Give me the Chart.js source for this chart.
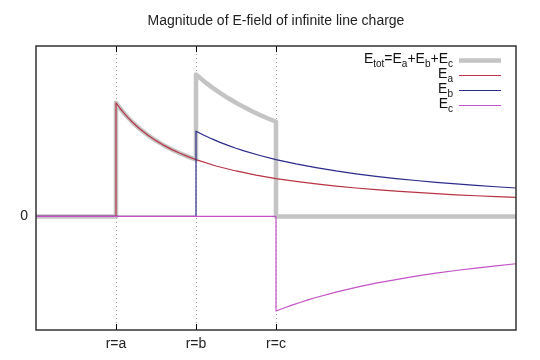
<!DOCTYPE html>
<html>
<head>
<meta charset="utf-8">
<script src="https://cdn.jsdelivr.net/npm/chart.js@4"></script>
<style>
  html, body { margin: 0; padding: 0; background: #fff; }
  #wrap { width: 540px; height: 360px; }
</style>
</head>
<body>
<div id="wrap"><canvas id="myChart" width="540" height="360"></canvas></div>
<script>
// tick positions and labels
const xTicks = [1, 2, 3];
const xTickLabels = ['r=a', 'r=b', 'r=c'];
const yTicks = [0];
const yTickLabels = ['0'];

// series (r, E)
const rTot = [0, 1, 1, 1.05, 1.1, 1.15, 1.2, 1.25, 1.3, 1.4, 1.5, 1.6, 1.7, 1.8, 1.9, 2,
              2, 2.1, 2.2, 2.3, 2.4, 2.5, 2.6, 2.7, 2.8, 2.9, 3, 3, 6];
const eTot = [0, 0, 1.000, 0.952, 0.909, 0.870, 0.833, 0.800, 0.769, 0.714, 0.667, 0.625, 0.588, 0.556, 0.526, 0.500,
              1.250, 1.190, 1.136, 1.087, 1.042, 1.000, 0.962, 0.926, 0.893, 0.862, 0.833, 0, 0];

const rA = [0, 1, 1, 1.05, 1.1, 1.15, 1.2, 1.25, 1.3, 1.4, 1.5, 1.6, 1.7, 1.8, 1.9, 2,
            2.25, 2.5, 2.75, 3, 3.25, 3.5, 3.75, 4, 4.25, 4.5, 4.75, 5, 5.25, 5.5, 5.75, 6];
const eA = [0, 0, 1.000, 0.952, 0.909, 0.870, 0.833, 0.800, 0.769, 0.714, 0.667, 0.625, 0.588, 0.556, 0.526, 0.500,
            0.444, 0.400, 0.364, 0.333, 0.308, 0.286, 0.267, 0.250, 0.235, 0.222, 0.211, 0.200, 0.190, 0.182, 0.174, 0.167];

const rB = [0, 2, 2, 2.1, 2.2, 2.3, 2.4, 2.5, 2.6, 2.8, 3, 3.25, 3.5, 3.75, 4, 4.25, 4.5, 4.75, 5, 5.25, 5.5, 5.75, 6];
const eB = [0, 0, 0.750, 0.714, 0.682, 0.652, 0.625, 0.600, 0.577, 0.536, 0.500, 0.462, 0.429, 0.400, 0.375, 0.353,
            0.333, 0.316, 0.300, 0.286, 0.273, 0.261, 0.250];

const rC = [0, 3, 3, 3.1, 3.2, 3.3, 3.4, 3.5, 3.75, 4, 4.25, 4.5, 4.75, 5, 5.25, 5.5, 5.75, 6];
const eC = [0, 0, -0.833, -0.806, -0.781, -0.758, -0.735, -0.714, -0.667, -0.625, -0.588, -0.556, -0.526, -0.500,
            -0.476, -0.455, -0.435, -0.417];

const FONT = '"Liberation Sans", Arial, sans-serif';

function toPoints(xs, ys) {
  return xs.map((x, i) => ({ x: x, y: ys[i] }));
}

// split 'E_{a}' style labels into normal / subscript pieces
function splitLabel(label) {
  const parts = [];
  const re = /_\{([^}]*)\}/g;
  let last = 0, m;
  while ((m = re.exec(label)) !== null) {
    if (m.index > last) parts.push({ text: label.slice(last, m.index), sub: false });
    parts.push({ text: m[1], sub: true });
    last = re.lastIndex;
  }
  if (last < label.length) parts.push({ text: label.slice(last), sub: false });
  return parts;
}

// box round the plot and short inward tick marks
const framePlugin = {
  id: 'frame',
  afterDatasetsDraw(chart) {
    const c = chart.ctx;
    const a = chart.chartArea;
    const xs = chart.scales.x;
    c.save();
    c.strokeStyle = '#000';
    c.lineWidth = 1;
    xTicks.forEach(v => {
      const px = Math.round(xs.getPixelForValue(v)) + 0.5;
      c.beginPath();
      c.moveTo(px, a.bottom); c.lineTo(px, a.bottom - 6);
      c.moveTo(px, a.top); c.lineTo(px, a.top + 6);
      c.stroke();
    });
    c.strokeStyle = '#333';
    c.lineWidth = 1.5;
    c.strokeRect(a.left, a.top, a.right - a.left, a.bottom - a.top);
    c.restore();
  }
};

// legend with subscripts, text right aligned and a line sample after it
const legendPlugin = {
  id: 'subLegend',
  afterDatasetsDraw(chart) {
    const c = chart.ctx;
    const textRight = chart.chartArea.right - 63;
    c.save();
    c.fillStyle = '#111';
    c.textBaseline = 'alphabetic';
    c.textAlign = 'left';
    chart.data.datasets.forEach((ds, i) => {
      const y = 60 + i * 15;
      const parts = splitLabel(ds.label);
      let w = 0;
      parts.forEach(p => {
        c.font = (p.sub ? '10px ' : '14px ') + FONT;
        p.w = c.measureText(p.text).width;
        w += p.w;
      });
      let x = textRight - w;
      parts.forEach(p => {
        c.font = (p.sub ? '10px ' : '14px ') + FONT;
        c.fillText(p.text, x, p.sub ? y + 7 : y + 3);
        x += p.w;
      });
      c.strokeStyle = ds.borderColor;
      c.lineWidth = ds.borderWidth;
      c.beginPath();
      c.moveTo(textRight + 6, y + 0.5);
      c.lineTo(textRight + 48, y + 0.5);
      c.stroke();
    });
    c.restore();
  }
};

Chart.defaults.font.family = FONT;
Chart.defaults.font.size = 14;
Chart.defaults.color = '#222';

const ctx = document.getElementById('myChart').getContext('2d');
const myChart = new Chart(ctx, {
  type: 'line',
  data: {
    datasets: [
      { label: 'E_{tot}=E_{a}+E_{b}+E_{c}', data: toPoints(rTot, eTot), borderColor: '#c4c4c4', borderWidth: 4.5, order: 4 },
      { label: 'E_{a}', data: toPoints(rA, eA), borderColor: '#b83444', borderWidth: 1.2, order: 3 },
      { label: 'E_{b}', data: toPoints(rB, eB), borderColor: '#2a2a8c', borderWidth: 1.2, order: 2 },
      { label: 'E_{c}', data: toPoints(rC, eC), borderColor: '#c452c8', borderWidth: 1.2, order: 1 }
    ]
  },
  options: {
    responsive: false,
    animation: false,
    devicePixelRatio: 1,
    layout: { padding: { left: 0, right: 24, top: 0, bottom: 0 } },
    elements: {
      point: { radius: 0 },
      line: { tension: 0, fill: false, borderJoinStyle: 'round', borderCapStyle: 'butt' }
    },
    plugins: {
      legend: { display: false },
      tooltip: { enabled: false },
      title: {
        display: true,
        text: 'Magnitude of E-field of infinite line charge',
        fullSize: false,
        color: '#222',
        font: { size: 14, weight: 'normal' },
        padding: { top: 13, bottom: 16.2 }
      }
    },
    scales: {
      x: {
        type: 'linear',
        min: 0,
        max: 6,
        afterBuildTicks: (scale) => { scale.ticks = xTicks.map(v => ({ value: v })); },
        afterFit: (scale) => { scale.height = 30; },
        ticks: {
          padding: 6,
          maxRotation: 0,
          autoSkip: false,
          callback: (value, index) => xTickLabels[index]
        },
        grid: { color: '#a0a0a0', drawTicks: false, lineWidth: 1 },
        border: { display: false, dash: [1, 3] }
      },
      y: {
        min: -1,
        max: 1.5,
        afterBuildTicks: (scale) => { scale.ticks = yTicks.map(v => ({ value: v })); },
        afterFit: (scale) => { scale.width = 36; },
        ticks: {
          padding: 8,
          callback: (value, index) => yTickLabels[index]
        },
        grid: { display: false, drawTicks: false },
        border: { display: false }
      }
    }
  },
  plugins: [framePlugin, legendPlugin]
});
</script>
</body>
</html>
